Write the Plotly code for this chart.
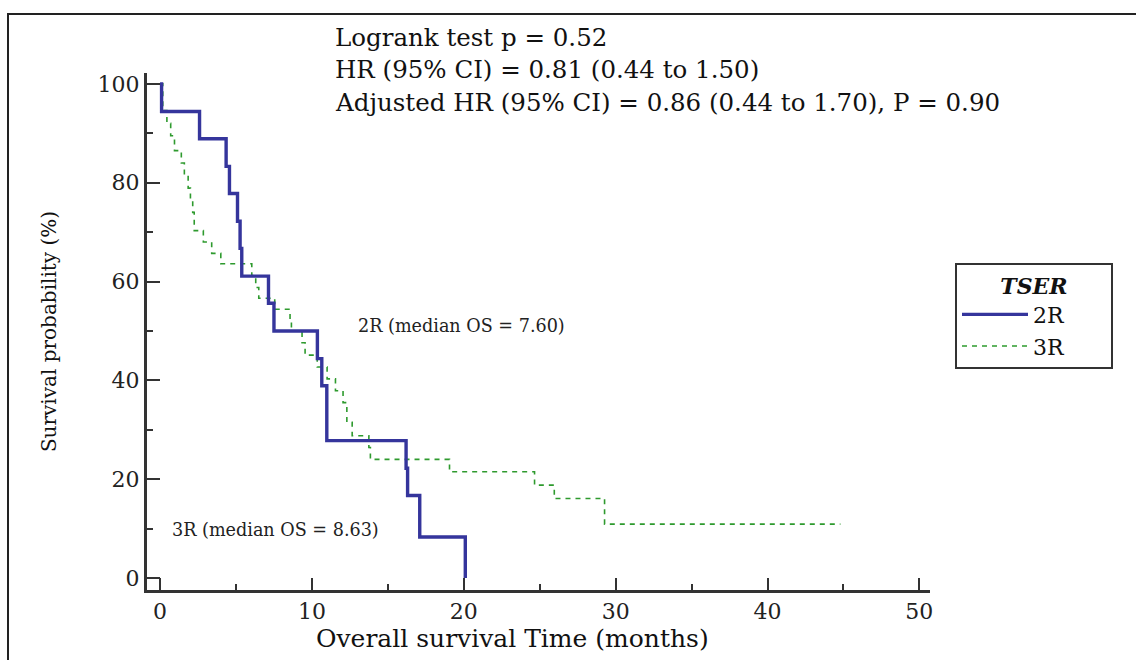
import plotly.graph_objects as go

# 2R group (solid blue) - Kaplan-Meier step points (time in months, survival %)
blue_t = [0, 0.1, 2.6, 4.35, 4.57, 5.1, 5.27, 5.38, 7.14, 7.5, 10.36, 10.65, 10.98, 16.2, 16.3, 17.1, 20.1]
blue_s = [100, 94.4, 88.9, 83.3, 77.8, 72.2, 66.7, 61.1, 55.6, 50.0, 44.4, 38.9, 27.8, 22.2, 16.7, 8.3, 0]

# 3R group (dashed green)
green_t = [0, 0.18, 0.45, 0.7, 0.95, 1.4, 1.6, 1.85, 2.0, 2.15, 2.25, 2.85, 3.4, 4.0, 6.04, 6.3, 6.5,
           7.55, 8.56, 8.65, 9.35, 9.55, 10.35, 11.0, 11.55, 12.05, 12.3, 12.65, 13.75, 13.85,
           19.06, 24.66, 25.96, 29.27, 44.8]
green_s = [100, 94.6, 92.0, 89.5, 86.5, 84.0, 81.5, 78.9, 76.5, 74.0, 70.3, 68.0, 65.7, 63.6, 61.2, 58.8, 56.6,
           54.4, 52.0, 50.0, 47.6, 45.1, 42.7, 40.3, 37.9, 35.5, 31.5, 28.8, 26.4, 24.0,
           21.5, 18.8, 16.1, 10.9, 10.9]

x_ticks = [0, 10, 20, 30, 40, 50]
y_ticks = [0, 20, 40, 60, 80, 100]

stats_lines = ["Logrank test p = 0.52",
               "HR (95% CI) = 0.81 (0.44 to 1.50)",
               "Adjusted HR (95% CI) = 0.86 (0.44 to 1.70), P = 0.90"]
label_2r = "2R (median OS = 7.60)"
label_3r = "3R (median OS = 8.63)"
x_title = "Overall survival Time (months)"
y_title = "Survival probability (%)"
legend_title = "TSER"

SERIF = "DejaVu Serif"
PAD = "\u00a0" * 6

fig = go.Figure()
fig.add_trace(go.Scatter(x=green_t, y=green_s, mode="lines", name="3R" + PAD,
                         line=dict(color="#2e9a2e", width=1.6, dash="5px,5px", shape="hv")))
fig.add_trace(go.Scatter(x=blue_t, y=blue_s, mode="lines", name="2R" + PAD,
                         line=dict(color="#35359c", width=3.4, shape="hv")))

axis_common = dict(showline=True, linecolor="#333333", linewidth=3, ticks="inside",
                   tickwidth=2, tickcolor="#333333", showgrid=False, zeroline=False,
                   tickfont=dict(family=SERIF, size=22, color="#222222"))

fig.update_xaxes(range=[-0.86, 50.7], tickvals=x_ticks, ticklen=12,
                 minor=dict(dtick=5, ticks="inside", ticklen=6, tickwidth=1.5, tickcolor="#333333", tick0=0),
                 **axis_common)
fig.update_yaxes(range=[-2.43, 102.2], tickvals=y_ticks, ticklen=13,
                 minor=dict(dtick=10, ticks="inside", ticklen=6, tickwidth=1.5, tickcolor="#333333", tick0=0),
                 title=dict(text=y_title, font=dict(family=SERIF, size=20, color="#111111"),
                            standoff=36),
                 **axis_common)

annotations = []
for i, line in enumerate(stats_lines):
    annotations.append(dict(xref="paper", yref="paper", x=(333 - 147) / 783, y=(590 - 37 - 32.5 * i) / 517,
                            xanchor="left", yanchor="middle", showarrow=False, text=line,
                            font=dict(family=SERIF, size=24.5, color="#111111")))
annotations.append(dict(xref="paper", yref="paper", x=(356 - 147) / 783, y=(590 - 326) / 517,
                        xanchor="left", yanchor="middle", showarrow=False, text=label_2r,
                        font=dict(family=SERIF, size=17.6, color="#222222")))
annotations.append(dict(xref="paper", yref="paper", x=(170 - 147) / 783, y=(590 - 530) / 517,
                        xanchor="left", yanchor="middle", showarrow=False, text=label_3r,
                        font=dict(family=SERIF, size=17.6, color="#222222")))
annotations.append(dict(xref="paper", yref="paper", x=(512 - 147) / 783, y=(590 - 638) / 517,
                        xanchor="center", yanchor="middle", showarrow=False, text=x_title,
                        font=dict(family=SERIF, size=25, color="#111111")))

fig.update_layout(
    width=1136, height=660,
    margin=dict(l=147, r=206, t=73, b=70),
    paper_bgcolor="white", plot_bgcolor="white",
    annotations=annotations,
    legend=dict(x=(955 - 147) / 783, y=(590 - 263) / 517, xanchor="left", yanchor="top",
                bgcolor="white", bordercolor="#333333", borderwidth=2, traceorder="reversed",
                itemwidth=66,
                title=dict(text="<b><i>" + legend_title + "</i></b>", side="top center",
                           font=dict(family=SERIF, size=22, color="#111111")),
                font=dict(family=SERIF, size=22, color="#111111")),
    shapes=[dict(type="rect", xref="paper", yref="paper",
                 x0=(8 - 147) / 783, x1=(1145 - 147) / 783,
                 y0=(590 - 670) / 517, y1=(590 - 14) / 517,
                 line=dict(color="#222222", width=2), fillcolor="rgba(0,0,0,0)", layer="below")],
)

fig.write_html("out.html")
